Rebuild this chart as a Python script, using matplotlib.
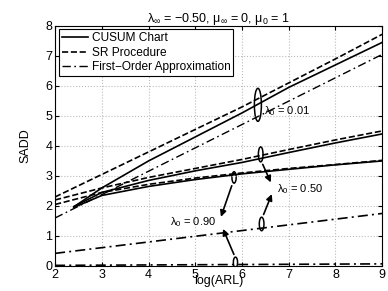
import matplotlib.pyplot as plt
from matplotlib.patches import Ellipse

plt.rcParams["font.family"] = ["Liberation Sans", "DejaVu Sans"]
plt.rcParams["mathtext.fontset"] = "custom"
plt.rcParams["mathtext.rm"] = "Liberation Sans"

# lambda_0 = 0.01
x_sr_001 = [2, 3, 4, 5, 6, 7, 8, 9]
sr_001 = [2.3, 3.05, 3.8, 4.55, 5.3, 6.1, 6.9, 7.72]
x_cu_001 = [2.4, 3, 4, 5, 6, 7, 8, 9]
cu_001 = [1.97, 2.6, 3.5, 4.3, 5.1, 5.95, 6.7, 7.45]
x_fo = [2, 9]
fo_001 = [1.6, 7.05]

# lambda_0 = 0.50
x_sr_050 = [2, 3, 4, 5, 6, 7, 8, 9]
sr_050 = [2.2, 2.6, 2.95, 3.25, 3.55, 3.88, 4.2, 4.5]
x_cu_050 = [2.4, 3, 4, 5, 6, 7, 8, 9]
cu_050 = [1.98, 2.45, 2.85, 3.17, 3.45, 3.78, 4.1, 4.4]
fo_050 = [0.42, 1.75]

# lambda_0 = 0.90
x_sr_090 = [2, 2.5, 3, 4, 5, 6, 7, 8, 9]
sr_090 = [2.05, 2.25, 2.45, 2.72, 2.93, 3.1, 3.25, 3.38, 3.52]
x_cu_090 = [2.4, 3, 4, 5, 6, 7, 8, 9]
cu_090 = [1.95, 2.35, 2.65, 2.88, 3.07, 3.22, 3.37, 3.5]
fo_090 = [0.02, 0.07]

fig = plt.figure(figsize=(3.88, 2.91), dpi=100)
ax = fig.add_axes([0.142, 0.086, 0.843, 0.825])

lw = 1.2
dd = (0, (6, 2.5, 1.2, 2.5))
ax.plot(x_cu_001, cu_001, "k-", lw=lw, label="CUSUM Chart")
ax.plot(x_sr_001, sr_001, "k--", lw=lw, label="SR Procedure")
ax.plot(x_fo, fo_001, color="k", ls=dd, lw=1.0, label="First\u2212Order Approximation")
ax.plot(x_cu_050, cu_050, "k-", lw=lw)
ax.plot(x_sr_050, sr_050, "k--", lw=lw)
ax.plot(x_fo, fo_050, color="k", ls=dd, lw=lw)
ax.plot(x_cu_090, cu_090, "k-", lw=lw)
ax.plot(x_sr_090, sr_090, "k--", lw=lw)
ax.plot(x_fo, fo_090, color="k", ls=dd, lw=lw)

# ellipses + arrows
for (cx, cy, w, h) in [(6.34, 5.37, 0.15, 1.1), (6.4, 3.72, 0.1, 0.5),
                       (6.42, 1.4, 0.1, 0.45), (5.83, 2.95, 0.09, 0.38),
                       (5.86, 0.12, 0.09, 0.35)]:
    ax.add_patch(Ellipse((cx, cy), w, h, fill=False, ec="k", lw=1.1))

arr = dict(arrowstyle="-|>", color="k", lw=1.2, mutation_scale=9)
ax.annotate("", xy=(6.64, 2.7), xytext=(6.42, 3.47), arrowprops=arr)
ax.annotate("", xy=(6.66, 2.48), xytext=(6.44, 1.63), arrowprops=arr)
ax.annotate("", xy=(5.53, 1.55), xytext=(5.8, 2.76), arrowprops=arr)
ax.annotate("", xy=(5.57, 1.32), xytext=(5.85, 0.3), arrowprops=arr)

ax.text(6.47, 5.05, r"$\mathregular{λ_0}$ = 0.01", fontsize=8)
ax.text(6.74, 2.45, r"$\mathregular{λ_0}$ = 0.50", fontsize=8)
ax.text(5.45, 1.35, r"$\mathregular{λ_0}$ = 0.90", fontsize=8, ha="right")

ax.set_xlim(2, 9)
ax.set_ylim(0, 8)
ax.set_xticks(range(2, 10))
ax.set_yticks(range(0, 9))
ax.tick_params(direction="in", top=True, right=True, labelsize=9, pad=2, length=3)
ax.grid(True, color="#bbbbbb", linestyle=":", lw=0.8)
for s in ax.spines.values():
    s.set_linewidth(0.8)

ax.set_xlabel("log(ARL)", fontsize=9, labelpad=-4)
ax.set_ylabel("SADD", fontsize=9, labelpad=10)
ax.set_title("$\\mathregular{λ_∞}$ = \u22120.50, $\\mathregular{μ_∞}$ = 0, $\\mathregular{μ_0}$ = 1",
             fontsize=9, pad=3)

leg = ax.legend(loc="upper left", fontsize=8.6, fancybox=False, framealpha=1,
                edgecolor="k", borderpad=0.25, labelspacing=0.2,
                handlelength=2.2, handletextpad=0.3, borderaxespad=0.3)
leg.get_frame().set_linewidth(0.8)

fig.savefig("out.png", dpi=100)
